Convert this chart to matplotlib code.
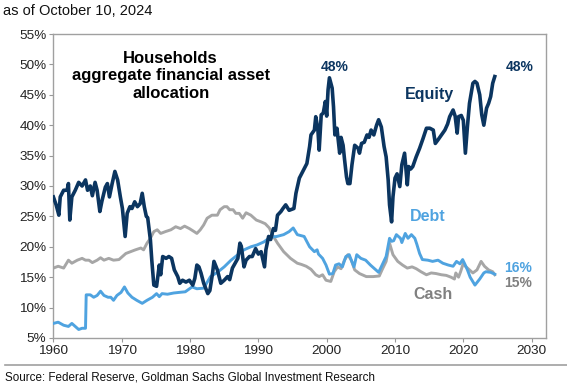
import matplotlib
matplotlib.use("Agg")
import matplotlib.pyplot as plt
from matplotlib.ticker import FuncFormatter, MultipleLocator

plt.rcParams['font.family'] = ['Liberation Sans', 'DejaVu Sans']

equity_x = [1960.0, 1960.4, 1960.8, 1961.0, 1961.5, 1962.0, 1962.2, 1962.4, 1962.7, 1963.2, 1963.7, 1964.2,
            1964.7, 1965.0, 1965.4, 1965.7, 1966.1, 1966.4, 1966.8, 1967.1, 1967.6, 1967.9, 1968.2, 1968.6,
            1969.0, 1969.4, 1969.8, 1970.1, 1970.5, 1970.8, 1971.2, 1971.5, 1971.9, 1972.3, 1972.7, 1973.0,
            1973.3, 1973.6, 1973.8, 1974.2, 1974.4, 1974.7, 1975.1, 1975.5, 1975.7, 1976.0, 1976.5, 1976.9,
            1977.3, 1977.7, 1978.2, 1978.5, 1978.9, 1979.4, 1979.9, 1980.4, 1980.7, 1981.0, 1981.3, 1981.6,
            1982.0, 1982.6, 1982.9, 1983.3, 1983.5, 1984.0, 1984.5, 1985.0, 1985.5, 1985.8, 1986.2, 1986.6,
            1987.0, 1987.3, 1987.5, 1987.9, 1988.2, 1988.7, 1989.1, 1989.6, 1990.0, 1990.4, 1990.9, 1991.1,
            1991.5, 1991.8, 1992.2, 1992.5, 1992.8, 1993.3, 1993.6, 1994.0, 1994.5, 1995.2, 1995.5, 1996.0,
            1996.5, 1997.1, 1997.5, 1997.7, 1998.2, 1998.4, 1998.7, 1998.9, 1999.2, 1999.5, 1999.8, 2000.0,
            2000.2, 2000.4, 2000.8, 2001.0, 2001.2, 2001.5, 2001.9, 2002.1, 2002.4, 2002.6, 2002.9, 2003.1,
            2003.4, 2003.7, 2004.1, 2004.6, 2004.8, 2005.1, 2005.5, 2005.9, 2006.2, 2006.5, 2006.9, 2007.3,
            2007.6, 2008.0, 2008.4, 2008.7, 2009.0, 2009.2, 2009.5, 2009.7, 2010.0, 2010.3, 2010.7, 2011.0,
            2011.4, 2011.8, 2012.0, 2012.3, 2012.6, 2013.1, 2013.6, 2014.1, 2014.6, 2015.1, 2015.6, 2015.9,
            2016.3, 2016.8, 2017.3, 2017.7, 2018.0, 2018.5, 2018.8, 2019.1, 2019.3, 2019.7, 2020.0, 2020.3,
            2020.6, 2020.9, 2021.4, 2021.7, 2022.0, 2022.4, 2022.7, 2023.0, 2023.4, 2023.7, 2024.0, 2024.3,
            2024.6]
equity_y = [28.2, 26.9, 25.2, 28.2, 29.3, 29.3, 30.4, 24.4, 28.2, 29.3, 30.6, 30.0,
            31.0, 29.3, 30.0, 28.4, 30.6, 29.3, 25.8, 27.5, 29.8, 30.4, 28.2, 30.4,
            32.4, 31.0, 28.2, 26.3, 21.7, 25.5, 26.6, 26.3, 27.4, 26.6, 27.1, 28.8,
            26.6, 25.0, 24.8, 21.1, 17.8, 13.7, 13.5, 17.0, 15.4, 18.4, 18.1, 18.4,
            18.1, 16.2, 15.1, 14.0, 14.5, 14.2, 14.5, 13.7, 14.8, 17.0, 16.7, 15.7,
            14.0, 12.3, 12.8, 15.7, 17.6, 16.2, 14.0, 14.5, 15.1, 14.6, 16.5, 17.3,
            18.1, 20.6, 20.1, 16.7, 17.8, 18.4, 18.4, 19.7, 18.8, 19.2, 16.7, 19.5,
            21.7, 21.2, 23.0, 22.7, 25.2, 25.8, 26.3, 26.9, 26.0, 26.3, 28.8, 31.3,
            32.4, 33.7, 36.5, 38.4, 39.2, 41.4, 39.5, 35.9, 41.7, 42.0, 43.9, 41.5,
            45.8, 47.8, 46.1, 43.0, 38.4, 39.5, 35.4, 38.0, 36.7, 34.5, 31.5, 30.4,
            30.4, 33.5, 36.7, 36.2, 35.4, 37.0, 37.2, 38.4, 38.0, 39.2, 38.4, 40.0,
            40.9, 39.7, 36.5, 34.8, 31.0, 26.9, 24.1, 28.2, 31.3, 32.0, 29.9, 33.5,
            35.4, 30.2, 33.2, 32.8, 33.2, 34.8, 36.2, 37.8, 39.5, 39.5, 39.2, 37.0,
            37.6, 38.4, 39.2, 40.2, 41.4, 42.5, 41.5, 38.7, 41.4, 41.6, 40.8, 35.4,
            39.8, 43.6, 46.9, 47.2, 46.9, 45.0, 41.7, 40.0, 42.8, 43.6, 44.7, 46.9,
            48.0]

debt_x = [1960.0, 1960.7, 1961.5, 1962.2, 1962.7, 1963.2, 1963.7, 1964.2, 1964.7, 1964.8, 1965.4, 1965.9,
          1966.4, 1966.9, 1967.4, 1968.0, 1968.4, 1968.8, 1969.3, 1969.9, 1970.4, 1970.9, 1971.5, 1972.2,
          1973.0, 1973.7, 1974.5, 1975.1, 1975.5, 1975.9, 1976.7, 1977.6, 1978.4, 1979.3, 1980.3, 1981.0,
          1982.0, 1983.0, 1984.0, 1985.0, 1986.0, 1987.0, 1987.9, 1988.9, 1989.8, 1990.8, 1991.8, 1992.7,
          1993.7, 1994.5, 1995.1, 1995.7, 1996.7, 1997.5, 1998.2, 1998.6, 1998.8, 1999.4, 1999.9, 2000.4,
          2000.9, 2001.3, 2001.8, 2002.3, 2002.8, 2003.3, 2003.6, 2004.0, 2004.4, 2005.0, 2005.7, 2006.4,
          2007.2, 2007.6, 2007.9, 2008.7, 2009.2, 2009.5, 2009.8, 2010.2, 2010.8, 2011.0, 2011.5, 2011.9,
          2012.4, 2012.9, 2013.2, 2013.6, 2014.0, 2014.8, 2015.5, 2016.3, 2017.0, 2017.8, 2018.5, 2019.0,
          2019.5, 2019.9, 2020.2, 2020.6, 2021.0, 2021.7, 2022.4, 2023.0, 2023.3, 2024.0, 2024.6]
debt_y = [7.4, 7.6, 7.1, 6.9, 7.4, 6.9, 6.4, 6.6, 6.6, 12.1, 12.1, 11.7,
          12.0, 12.7, 12.0, 11.7, 11.7, 11.2, 12.0, 12.5, 13.4, 12.4, 11.7, 11.2,
          10.7, 11.2, 11.7, 12.3, 11.8, 12.3, 12.2, 12.4, 12.5, 12.6, 13.4, 13.1,
          13.2, 15.1, 15.8, 16.7, 17.8, 18.7, 19.5, 20.0, 20.3, 20.8, 21.6, 21.7,
          22.0, 22.5, 23.1, 22.0, 21.7, 20.0, 19.2, 19.5, 18.8, 18.1, 17.0, 15.5,
          15.6, 17.0, 17.2, 16.7, 18.4, 18.7, 17.8, 16.7, 18.7, 18.1, 17.8, 17.0,
          16.2, 15.8, 16.5, 18.4, 21.4, 20.9, 21.0, 22.0, 21.4, 20.7, 22.2, 21.4,
          22.0, 21.4, 20.4, 18.9, 17.9, 17.8, 17.6, 17.8, 17.3, 17.0, 16.8, 17.6,
          17.2, 17.9, 17.2, 16.2, 15.0, 13.7, 14.7, 15.7, 15.9, 15.8, 15.5]

cash_x = [1960.0, 1960.7, 1961.5, 1962.2, 1962.7, 1963.5, 1964.2, 1964.7, 1965.2, 1965.7, 1966.4, 1966.9,
          1967.4, 1968.1, 1968.8, 1969.6, 1970.0, 1970.6, 1971.3, 1972.0, 1972.8, 1973.2, 1973.7, 1974.2,
          1974.7, 1975.2, 1975.7, 1976.4, 1977.2, 1977.9, 1978.6, 1979.2, 1979.9, 1980.6, 1981.0, 1981.5,
          1982.0, 1982.5, 1983.2, 1984.0, 1984.4, 1985.0, 1985.4, 1985.8, 1986.3, 1986.7, 1987.2, 1987.7,
          1988.2, 1988.9, 1989.7, 1990.4, 1991.0, 1991.6, 1992.1, 1992.8, 1993.7, 1994.7, 1995.7, 1996.3,
          1997.0, 1997.7, 1998.4, 1998.9, 1999.4, 1999.9, 2000.6, 2001.1, 2001.6, 2002.1, 2002.6, 2003.1,
          2003.6, 2004.1, 2004.8, 2005.8, 2006.8, 2007.7, 2008.1, 2008.7, 2009.2, 2009.7, 2010.4, 2011.1,
          2011.8, 2012.5, 2013.1, 2013.8, 2014.6, 2015.3, 2016.0, 2016.8, 2017.5, 2018.2, 2018.7, 2018.9,
          2019.3, 2019.6, 2020.0, 2020.3, 2020.9, 2021.4, 2022.0, 2022.6, 2023.1, 2023.7, 2024.3, 2024.6]
cash_y = [16.5, 16.8, 16.5, 17.8, 17.3, 17.8, 18.1, 17.8, 17.8, 17.4, 17.8, 18.2,
          17.8, 18.1, 17.8, 17.9, 18.3, 18.9, 19.2, 19.5, 19.8, 19.5, 20.6, 21.4,
          22.5, 22.8, 22.2, 22.5, 22.8, 23.3, 23.0, 23.4, 23.0, 22.5, 22.2, 22.8,
          23.6, 24.7, 25.2, 25.2, 26.1, 26.6, 26.6, 26.1, 26.1, 25.5, 25.5, 24.7,
          25.6, 25.2, 24.4, 24.1, 23.8, 23.1, 21.9, 20.6, 19.2, 18.1, 17.3, 17.1,
          16.8, 16.3, 15.4, 15.1, 15.4, 14.5, 14.3, 15.9, 16.7, 16.4, 17.8, 18.7,
          17.8, 16.2, 15.6, 15.1, 15.1, 15.2, 16.2, 17.6, 20.6, 18.7, 17.6, 17.0,
          16.5, 16.7, 16.4, 15.9, 15.4, 15.7, 15.6, 15.4, 15.3, 15.0, 14.7, 15.7,
          15.0, 15.9, 17.3, 16.8, 16.2, 15.7, 16.2, 17.6, 16.8, 16.2, 15.9, 15.4]

x_ticks = [1960, 1970, 1980, 1990, 2000, 2010, 2020, 2030]

navy = '#0B3560'
light = '#4FA3E0'
gray = '#A6A6A6'

fig = plt.figure(figsize=(5.67, 3.88), dpi=100)
ax = fig.add_axes([53.4 / 567, 1 - 338 / 388, (546 - 53.4) / 567, (338 - 34) / 388])

ax.plot(cash_x, cash_y, color=gray, lw=2.1, solid_joinstyle='round', zorder=2)
ax.plot(debt_x, debt_y, color=light, lw=2.1, solid_joinstyle='round', zorder=3)
ax.plot(equity_x, equity_y, color=navy, lw=2.6, solid_joinstyle='round', zorder=4)

ax.set_xlim(1960, 2032.1)
ax.set_ylim(5, 55)
ax.set_xticks(x_ticks)
ax.yaxis.set_major_locator(MultipleLocator(5))
ax.yaxis.set_major_formatter(FuncFormatter(lambda v, p: f"{v:.0f}%"))
ax.tick_params(axis='both', labelsize=9.7, colors='#222222', length=3, width=0.8, pad=2)
ax.tick_params(axis='both', color='#999999')
for s in ax.spines.values():
    s.set_color('#A0A0A0')
    s.set_linewidth(1.0)

ax.text(0.238, 0.862, "Households\naggregate financial asset\nallocation", transform=ax.transAxes,
        ha='center', va='center', fontsize=12, fontweight='bold', color='black', linespacing=1.22)

ax.text(2001.2, 49.6, "48%", ha='center', va='center', fontsize=10, fontweight='bold', color=navy)
ax.text(2026.2, 49.6, "48%", ha='left', va='center', fontsize=10, fontweight='bold', color=navy)
ax.text(2015.0, 45.0, "Equity", ha='center', va='center', fontsize=11.5, fontweight='bold', color=navy)
ax.text(2014.8, 25.0, "Debt", ha='center', va='center', fontsize=11.5, fontweight='bold', color=light)
ax.text(2015.5, 12.1, "Cash", ha='center', va='center', fontsize=11.5, fontweight='bold', color='#808080')
ax.text(2026.0, 16.55, "16%", ha='left', va='center', fontsize=10, fontweight='bold', color=light)
ax.text(2026.0, 14.0, "15%", ha='left', va='center', fontsize=10, fontweight='bold', color='#808080')

fig.text(3 / 567, 1 - 11 / 388, "as of October 10, 2024", ha='left', va='center', fontsize=10.5, color='#111111')
fig.add_artist(plt.Line2D([5 / 567, 1.0], [1 - 365 / 388, 1 - 365 / 388], transform=fig.transFigure,
                          color='#A0A0A0', lw=1.2))
fig.text(5 / 567, 1 - 378 / 388, "Source: Federal Reserve, Goldman Sachs Global Investment Research",
         ha='left', va='center', fontsize=8.4, color='#111111')

fig.savefig("out.png", dpi=100)
